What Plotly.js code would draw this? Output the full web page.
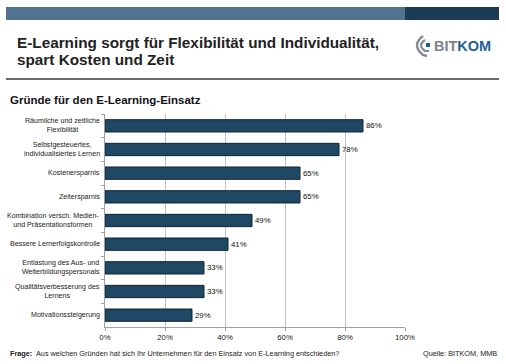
<!DOCTYPE html>
<html><head><meta charset="utf-8">
<script src="https://cdn.plot.ly/plotly-3.0.1.min.js"></script>
<style>body{margin:0;background:#fff}#c{width:506px;height:364px}</style>
</head><body><div id="c"></div>
<script>
const categories = [
  "Räumliche und zeitliche<br>Flexibilität",
  "Selbstgesteuertes,<br>individualisiertes Lernen",
  "Kostenersparnis",
  "Zeitersparnis",
  "Kombination versch. Medien-<br>und Präsentationsformen",
  "Bessere Lernerfolgskontrolle",
  "Entlastung des Aus- und<br>Weiterbildungspersonals",
  "Qualitätsverbesserung des<br>Lernens",
  "Motivationssteigerung"
];
const values = [86, 78, 65, 65, 49, 41, 33, 33, 29];
const xTicks = [0, 20, 40, 60, 80, 100];
const xTickLabels = ["0%", "20%", "40%", "60%", "80%", "100%"];

const W = 506, H = 364, L = 105, R = 101, T = 114, B = 37;
const pw = W - L - R, ph = H - T - B;
const px = x => (x - L) / pw;
const py = y => (H - B - y) / ph;
const FONT = 'Arial, Liberation Sans';

const shapes = [
  {type:'rect', xref:'paper', yref:'paper', x0:px(6), x1:px(405), y0:py(20), y1:py(7), fillcolor:'#52728f', line:{width:0}, layer:'above'},
  {type:'rect', xref:'paper', yref:'paper', x0:px(405), x1:px(499), y0:py(20), y1:py(7), fillcolor:'#1d3b54', line:{width:0}, layer:'above'},
  {type:'line', xref:'paper', yref:'paper', x0:px(6), x1:px(499), y0:py(79), y1:py(79), line:{color:'#3a3a3a', width:1.5}},
  {type:'path', xref:'paper', yref:'paper', path:`M ${px(423)} ${py(36)} Q ${px(411)} ${py(45)} ${px(423)} ${py(55)} L ${px(427)} ${py(56)}`, line:{color:'#858b94', width:2.4}},
  {type:'path', xref:'paper', yref:'paper', path:`M ${px(425)} ${py(40)} Q ${px(417)} ${py(45)} ${px(425)} ${py(51)} L ${px(429)} ${py(51)}`, line:{color:'#858b94', width:2.2}},
  {type:'rect', xref:'paper', yref:'paper', x0:px(426), x1:px(430), y0:py(47), y1:py(43), fillcolor:'#1f5f9a', line:{width:0}}
];

const ann = (x, y, text, size, opts={}) => Object.assign({
  xref:'paper', yref:'paper', x:px(x), y:py(y), text, showarrow:false,
  xanchor:'left', yanchor:'middle', font:{family:FONT, size, color:'#222'}
}, opts);

const annotations = [
  ann(15, 42, "<b>E-Learning sorgt für Flexibilität und Individualität,</b>", 15.3),
  ann(15, 59, "<b>spart Kosten und Zeit</b>", 15.3),
  ann(8, 100, "<b>Gründe für den E-Learning-Einsatz</b>", 11.5, {font:{family:FONT, size:11.5, color:'#111'}}),
  ann(432, 46, "<b><span style='color:#7d838c'>BIT</span><span style='color:#1f5f9a'>KOM</span></b>", 14.5),
  ann(8, 353, "<b>Frage:</b>  Aus welchen Gründen hat sich Ihr Unternehmen für den Einsatz von E-Learning entschieden?", 7.3, {font:{family:FONT, size:7.3, color:'#222'}}),
  ann(499, 353, "Quelle: BITKOM, MMB", 7.3, {xanchor:'right', font:{family:FONT, size:7.3, color:'#222'}})
];
// centered multi-line category labels
categories.forEach(c => annotations.push({
  xref:'paper', yref:'y', x:0, y:c, xshift:-3, text:c, showarrow:false,
  xanchor:'right', yanchor:'middle', align:'center',
  font:{family:FONT, size:7.1, color:'#222'}
}));

const trace = {
  type:'bar', orientation:'h', x: values, y: categories,
  width: 0.52,
  marker:{color:'#1f4864', line:{color:'#0f2536', width:1}},
  text: values.map(v => v + '%'), textposition:'outside',
  textfont:{family:FONT, size:7.8, color:'#111'},
  cliponaxis:false, hoverinfo:'skip'
};

const layout = {
  width: W, height: H,
  margin:{l:L, r:R, t:T, b:B},
  paper_bgcolor:'#fff', plot_bgcolor:'#fff',
  showlegend:false,
  xaxis:{range:[0,100], tickvals:xTicks, ticktext:xTickLabels, showgrid:true, gridcolor:'#c4c4c4', gridwidth:1,
         zeroline:false, showline:true, linecolor:'#a0a0a0', ticks:'outside', ticklen:3, tickcolor:'#a0a0a0',
         tickfont:{family:FONT, size:7.8, color:'#222'}, fixedrange:true},
  yaxis:{autorange:'reversed', showline:true, linecolor:'#a0a0a0', ticks:'outside', tickson:'boundaries', ticklen:3, tickcolor:'#a0a0a0',
         showgrid:false, showticklabels:false, fixedrange:true},
  shapes, annotations,
  font:{family:FONT}
};

Plotly.newPlot('c', [trace], layout, {displayModeBar:false, staticPlot:true});
</script></body></html>
